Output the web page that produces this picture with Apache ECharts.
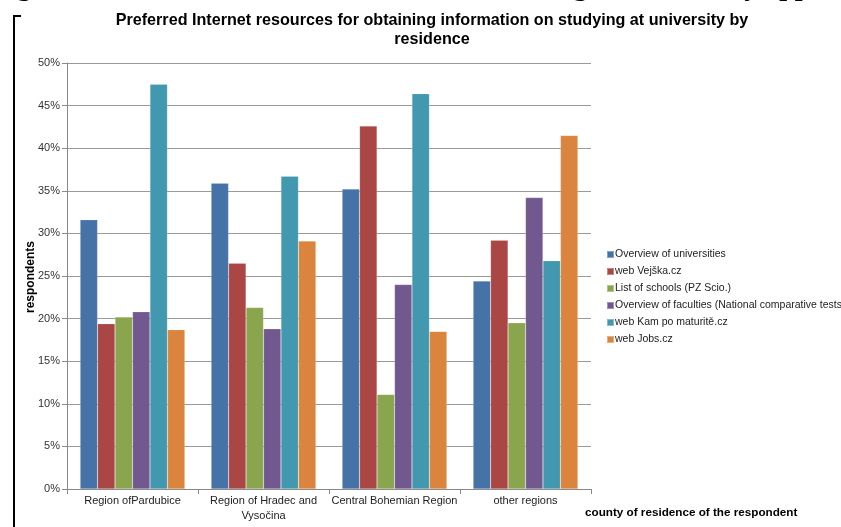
<!DOCTYPE html>
<html>
<head>
<meta charset="utf-8">
<script src="https://cdn.jsdelivr.net/npm/echarts@6/dist/echarts.min.js"></script>
<style>
html,body{margin:0;padding:0;background:#fff;}
#chart{width:841px;height:527px;}
</style>
</head>
<body>
<div id="chart"></div>
<script>
const categories = ['Region ofPardubice', 'Region of Hradec and\nVysočina', 'Central Bohemian Region', 'other regions'];
const seriesNames = ['Overview of universities', 'web Vejška.cz', 'List of schools (PZ Scio.)', 'Overview of faculties (National comparative tests', 'web Kam po maturitě.cz', 'web Jobs.cz'];
const overviewUniversities = [31.6, 35.9, 35.2, 24.4];
const webVejska = [19.4, 26.5, 42.6, 29.2];
const listOfSchools = [20.2, 21.3, 11.1, 19.5];
const overviewFaculties = [20.8, 18.8, 24.0, 34.2];
const webKamPoMaturite = [47.5, 36.7, 46.4, 26.8];
const webJobs = [18.7, 29.1, 18.5, 41.5];
const yTicks = [0, 5, 10, 15, 20, 25, 30, 35, 40, 45, 50];

const seriesData = [overviewUniversities, webVejska, listOfSchools, overviewFaculties, webKamPoMaturite, webJobs];
const colors = ['#4572A7', '#AA4643', '#89A54E', '#71588F', '#4198AF', '#DB843D'];

const chart = echarts.init(document.getElementById('chart'), null, {renderer: 'canvas'});
const font = '"Liberation Sans", Arial, sans-serif';

chart.setOption({
  animation: false,
  color: colors,
  legend: {
    orient: 'vertical', left: 601, top: 244,
    itemWidth: 7, itemHeight: 7, itemGap: 6,
    icon: 'rect',
    textStyle: {fontFamily: font, fontSize: 10.5, color: '#222', padding: [0,0,0,-4]},
    data: seriesNames
  },
  grid: {left: 67, right: 250, top: 63, bottom: 38, containLabel: false},
  xAxis: {
    type: 'category', data: categories,
    axisLine: {lineStyle: {color: '#888'}},
    axisTick: {show: true, alignWithLabel: false, length: 5, lineStyle: {color: '#888'}},
    axisLabel: {fontFamily: font, fontSize: 11, color: '#222', margin: 4, lineHeight: 15, interval: 0}
  },
  yAxis: {
    type: 'value', min: yTicks[0], max: yTicks[yTicks.length-1], interval: 5,
    axisLine: {show: true, lineStyle: {color: '#888'}},
    axisTick: {show: true, length: 5, lineStyle: {color: '#888'}},
    splitLine: {lineStyle: {color: '#9a9a9a', width: 1}},
    axisLabel: {fontFamily: font, fontSize: 11, color: '#333', margin: 7, formatter: '{value}%'}
  },
  series: seriesNames.map((n, i) => ({
    name: n, type: 'bar', data: seriesData[i],
    barGap: '0%', barCategoryGap: '20%',
    itemStyle: {color: colors[i], borderColor: 'rgba(255,255,255,0.35)', borderWidth: 0.5}
  })),
  graphic: [
    {type: 'text', x: 432, y: 11, scaleX: 0.95, originX: 0,
     style: {text: 'Preferred Internet resources for obtaining information on studying at university by\nresidence',
             font: 'bold 17px ' + font, fill: '#000', align: 'center', lineHeight: 19}},
    {type: 'text', x: 31, y: 277, rotation: Math.PI / 2,
     style: {text: 'respondents', font: 'bold 12px ' + font, fill: '#000', align: 'center', verticalAlign: 'middle'}},
    {type: 'text', left: 585, top: 507, style: {text: 'county of residence of the respondent', font: 'bold 11.7px ' + font, fill: '#000'}},
    {type: 'text', left: -8, top: -26, style: {text: 'Figure 8: Preferred sources of information among the university applicants', font: 'bold 28px "Liberation Serif", serif', fill: '#000'}},
    {type: 'polyline', shape: {points: [[21, 16], [14, 16], [14, 527]]}, style: {stroke: '#000', lineWidth: 2, fill: null}}
  ]
});
</script>
</body>
</html>
